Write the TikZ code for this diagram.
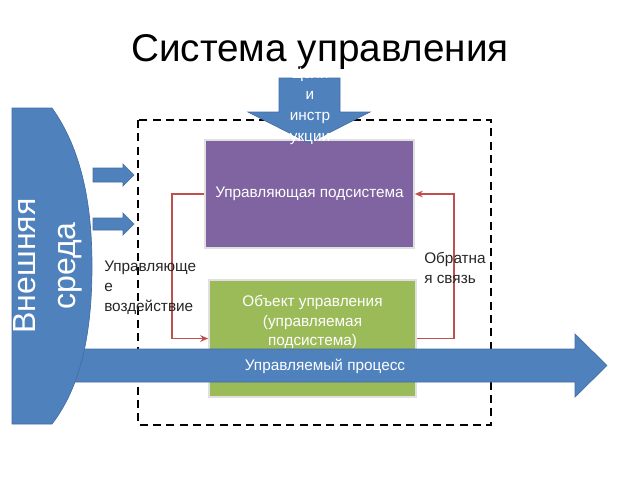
\documentclass[tikz,border=0pt]{standalone}
\usepackage{fontspec}
\setmainfont{Liberation Sans}
\usetikzlibrary{arrows.meta}

\definecolor{blueA}{HTML}{4F81BD}
\definecolor{purpleA}{HTML}{8064A2}
\definecolor{greenA}{HTML}{9BBB59}
\definecolor{redA}{HTML}{C0504D}
\definecolor{textA}{HTML}{262626}

\begin{document}
\begin{tikzpicture}[
        x=0.75pt, y=-0.75pt,
        blueshape/.style={fill=blueA, draw=blueA!85!black, line width=0.5pt},
        box/.style={draw=black!12, line width=1.2pt, inner sep=0pt},
        boxtext/.style={text=white, align=center, font=\fontsize{11.5}{14.5}\selectfont},
        note/.style={text=textA, align=left, inner sep=0pt, anchor=north west,
            font=\fontsize{11.5}{15}\selectfont},
        link/.style={draw=redA, line width=1.2pt, -{Stealth[length=6pt, width=5pt]}}
      ]
      \useasboundingbox (0,0) rectangle (640,480);

      % title
      \node[anchor=base, font=\fontsize{29}{30}\selectfont] (title) at (320,61) {Система управления};

      % system border
      \draw[line width=1.3pt, dash pattern=on 6pt off 4pt] (138,120) rectangle (491,425);

      % inputs from the environment
      \draw[blueshape] (93,168) -- (123,168) -- (123,164) -- (134,175) -- (123,186)
        -- (123,182) -- (93,182) -- cycle;
      \draw[blueshape] (93,218) -- (123,218) -- (123,213) -- (134,224) -- (123,235)
        -- (123,230) -- (93,230) -- cycle;

      % subsystems
      \node[box, fill=purpleA, minimum width=156.75pt, minimum height=81pt] (ctrl) at (309.5,194) {};
      \node[boxtext] (ctrltext) at (ctrl) {Управляющая подсистема};
      \node[box, fill=greenA, minimum width=155.25pt, minimum height=87.75pt] (obj) at (312.5,338.5) {};
      \node[boxtext] (objtext) at (312.5,322) {Объект управления\\(управляемая\\подсистема)};

      % goals arrow
      \draw[blueshape] (279,78) -- (340,78) -- (340,112) -- (370,112) -- (309,143)
        -- (248,112) -- (279,112) -- cycle;
      \node[boxtext, font=\fontsize{11.5}{15.75}\selectfont] (goals) at (310,106.5) {Цели\\и\\инстр\\укции};

      % process arrow
      \draw[blueshape] (75,349) -- (575,349) -- (575,334) -- (607,365.5) -- (575,397)
        -- (575,382) -- (75,382) -- cycle;
      \node[boxtext] (proc) at (325,366) {Управляемый процесс};

      % environment
      \draw[blueshape] (12,108) -- (52,108) .. controls (82,150) and (92,205) .. (92,266)
        .. controls (92,330) and (82,385) .. (52,424) -- (12,424) -- cycle;
      \node[text=white, rotate=90, align=center, font=\fontsize{24}{30}\selectfont] (env) at (48,266) {Внешняя\\среда};

      % control loop
      \draw[link] (ctrl.west) -- ++(-32,0) |- (obj.west);
      \draw[link] (obj.east) -- ++(37,0) |- (ctrl.east);

      \node[note] (act) at (104,261) {Управляюще\\е\\воздействие};
      \node[note] (fb) at (424,252) {Обратна\\я связь};
    \end{tikzpicture}
\end{document}
